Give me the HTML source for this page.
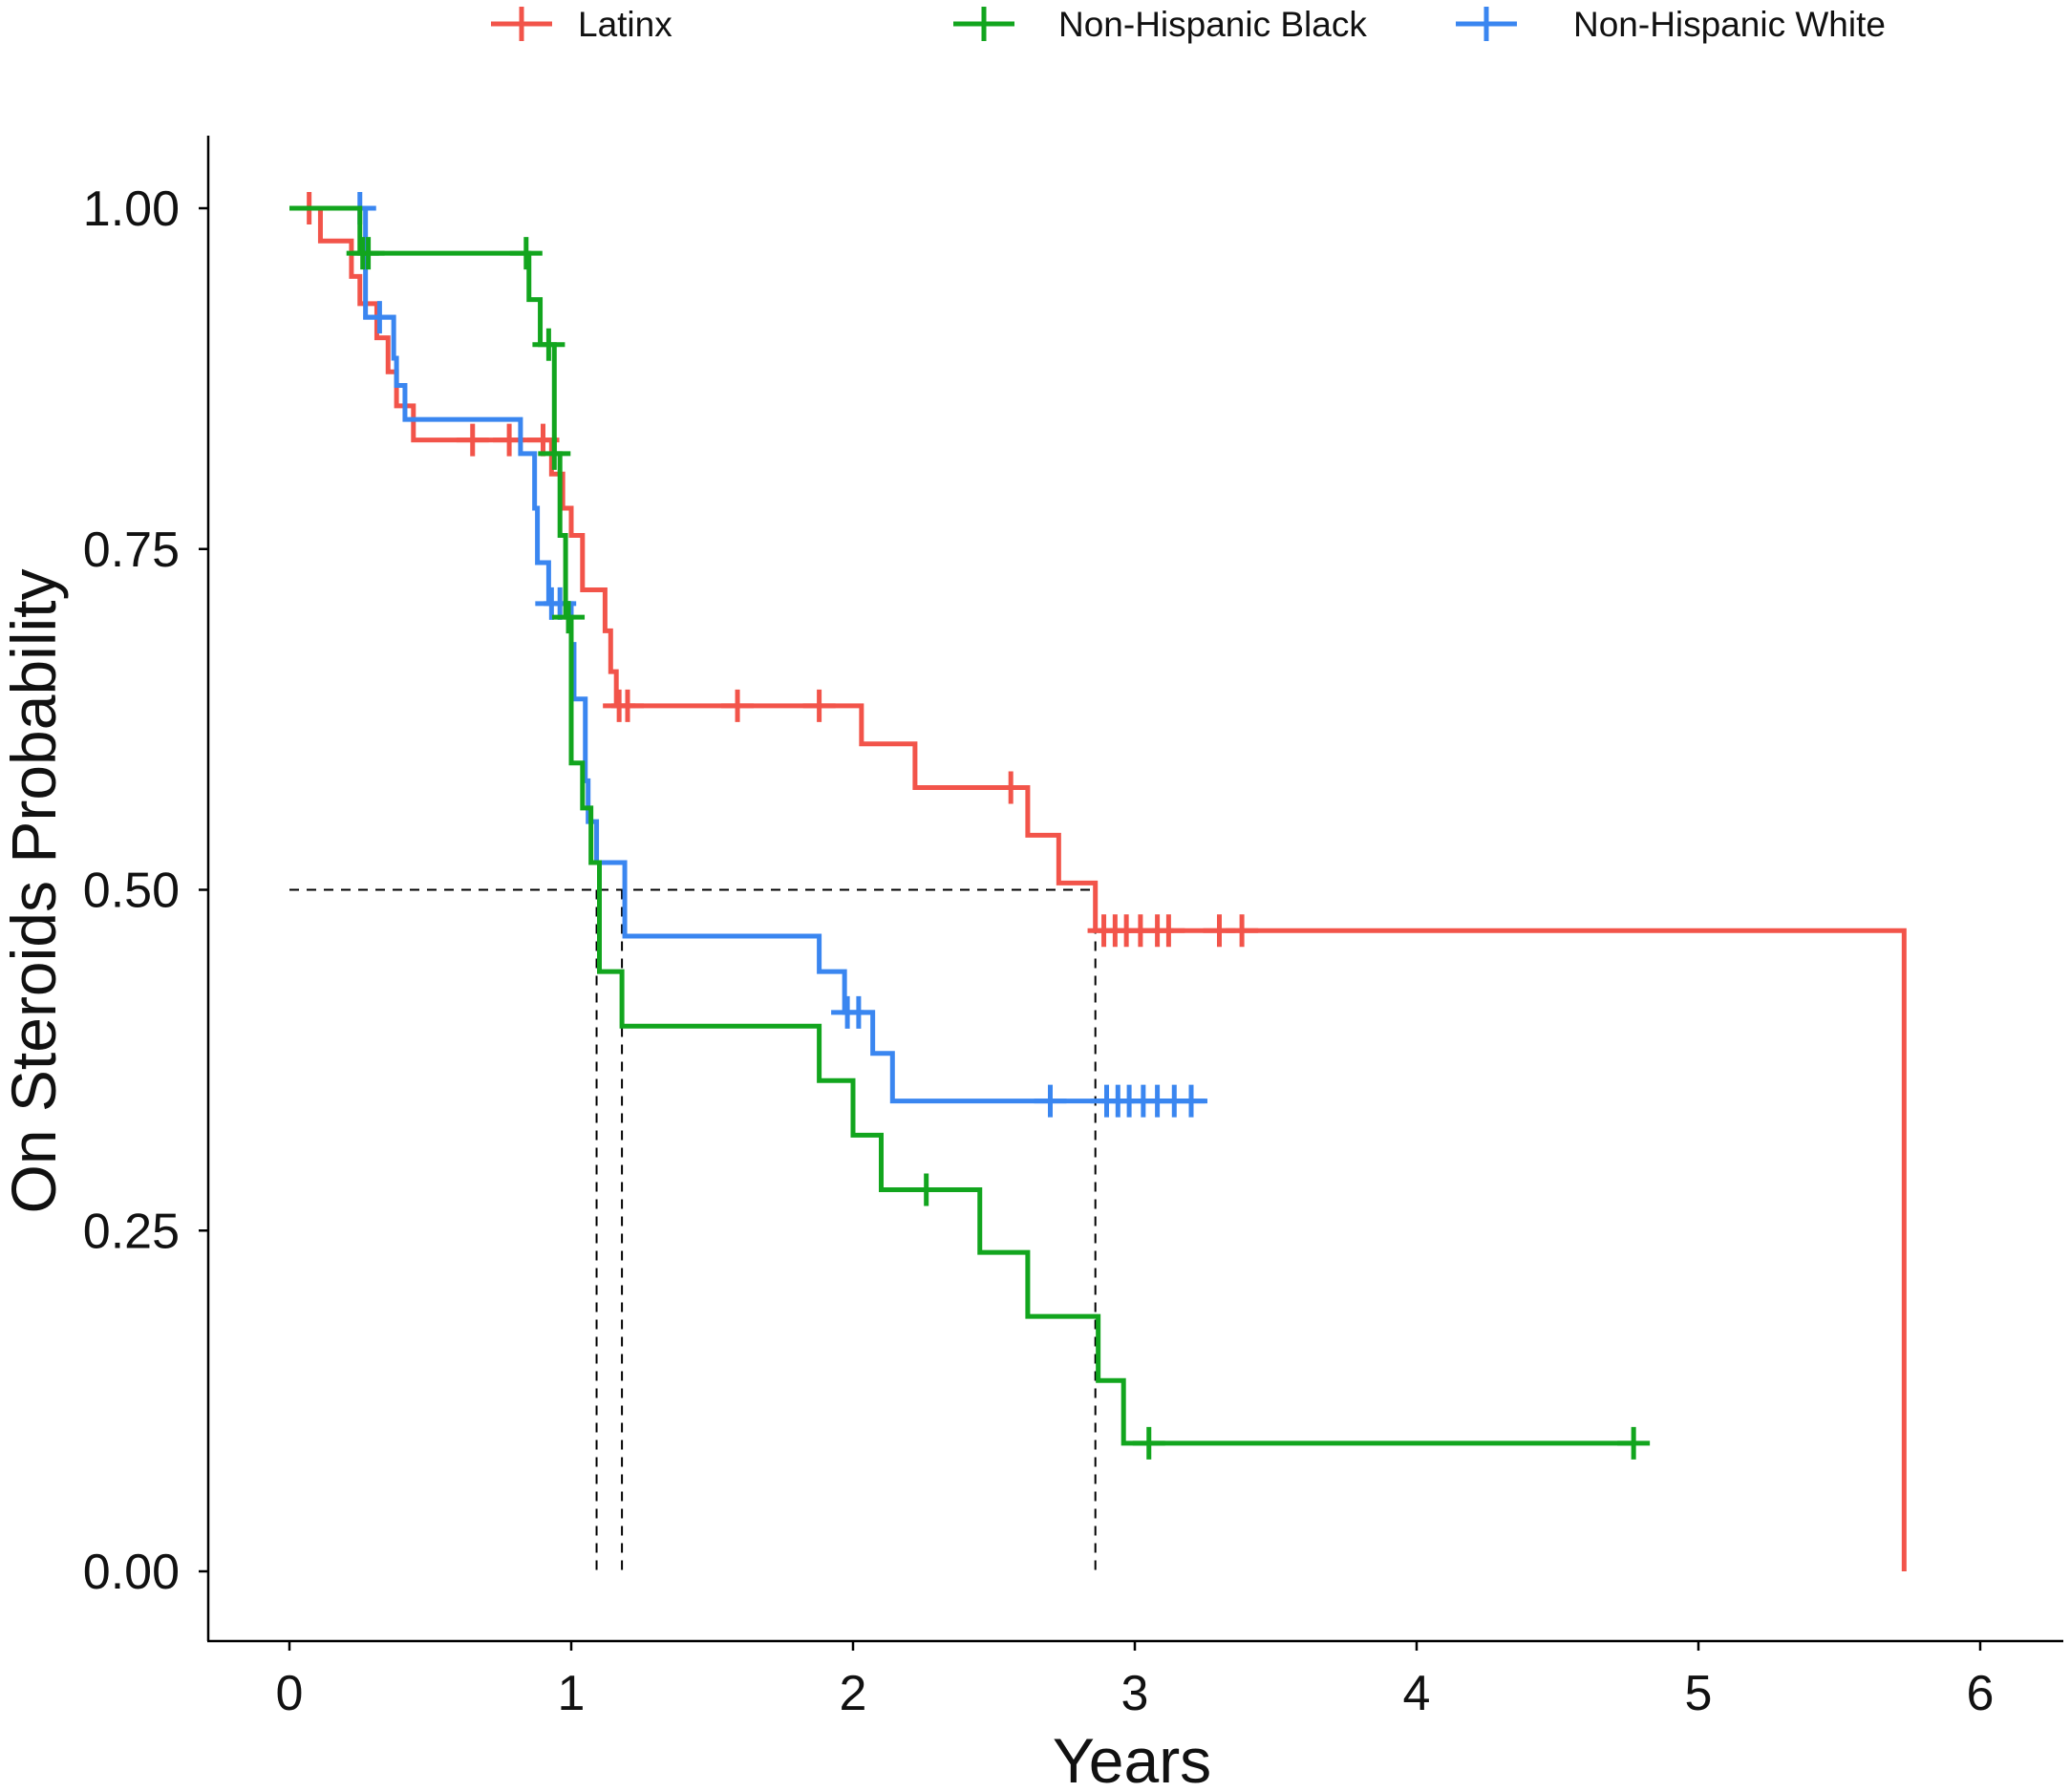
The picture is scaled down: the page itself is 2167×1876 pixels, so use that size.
<!DOCTYPE html>
<html><head><meta charset="utf-8"><style>
html,body{margin:0;padding:0;background:#fff;}
svg{display:block;font-family:"Liberation Sans",Arial,sans-serif;}
</style></head><body>
<svg id="chart" width="2167" height="1876" viewBox="0 0 2167 1876" xmlns="http://www.w3.org/2000/svg"></svg>
<script>
const xTicks=[0,1,2,3,4,5,6];
const yTicks=[0,0.25,0.5,0.75,1.0];
const yTickLabels=["0.00","0.25","0.50","0.75","1.00"];
const seriesNames=["Latinx","Non-Hispanic Black","Non-Hispanic White"];
const seriesColors=["#F2544A","#12A51E","#3A86F0"];
const latT=[0,0.11,0.22,0.25,0.31,0.35,0.38,0.44,0.93,0.97,1.0,1.04,1.12,1.14,1.16,2.03,2.22,2.62,2.73,2.86,5.73];
const latS=[1.0,0.976,0.95,0.93,0.905,0.88,0.855,0.83,0.805,0.78,0.76,0.72,0.69,0.66,0.635,0.607,0.575,0.54,0.505,0.47,0.0];
const latEnd=5.73;
const latCT=[0.07,0.65,0.78,0.9,1.17,1.2,1.59,1.88,2.56,2.89,2.93,2.97,3.02,3.08,3.12,3.3,3.38];
const blkT=[0,0.25,0.85,0.89,0.94,0.96,0.98,1.0,1.04,1.07,1.1,1.18,1.88,2.0,2.1,2.45,2.62,2.87,2.96];
const blkS=[1.0,0.967,0.933,0.9,0.82,0.76,0.7,0.593,0.56,0.52,0.44,0.4,0.36,0.32,0.28,0.234,0.187,0.14,0.094];
const blkEnd=4.77;
const blkCT=[0.26,0.28,0.84,0.92,0.94,0.99,2.26,3.05,4.77];
const whtT=[0,0.27,0.37,0.38,0.41,0.82,0.87,0.88,0.92,1.0,1.01,1.05,1.06,1.09,1.19,1.88,1.97,2.07,2.14];
const whtS=[1.0,0.92,0.89,0.87,0.845,0.82,0.78,0.74,0.71,0.68,0.64,0.58,0.55,0.52,0.466,0.44,0.41,0.38,0.345];
const whtEnd=3.25;
const whtCT=[0.25,0.32,0.93,0.96,1.98,2.02,2.7,2.9,2.94,2.98,3.03,3.08,3.14,3.2];
const medians=[1.09,1.18,2.86];

const NS="http://www.w3.org/2000/svg";
const svg=document.getElementById('chart');
const X0=303,XS=295,Y1=218,Y0=1645;
const xs=v=>X0+v*XS;
const ys=v=>Y0-(Y0-Y1)*v;
function mk(tag,attrs,parent){const e=document.createElementNS(NS,tag);for(const k in attrs)e.setAttribute(k,attrs[k]);(parent||svg).appendChild(e);return e;}

let ax=mk('line',{x1:218,y1:142,x2:218,y2:1718,stroke:'#000','stroke-width':2.5});


ax=mk('line',{x1:217,y1:1718,x2:2160,y2:1718,stroke:'#000','stroke-width':2.5});


xTicks.forEach(t=>{
  const l=mk('line',{x1:xs(t),y1:1718,x2:xs(t),y2:1728,stroke:'#000','stroke-width':2.5});
  
  
  const tx=mk('text',{x:xs(t),y:1790,'text-anchor':'middle','font-size':52,fill:'#111'});
  tx.textContent=String(t);
  
  
});
yTicks.forEach((t,i)=>{
  const l=mk('line',{x1:208,y1:ys(t),x2:218,y2:ys(t),stroke:'#000','stroke-width':2.5});
  
  
  const tx=mk('text',{x:188,y:ys(t)+18,'text-anchor':'end','font-size':52,fill:'#111'});
  tx.textContent=yTickLabels[i];
  
  
});
let tt=mk('text',{x:1185,y:1866,'text-anchor':'middle','font-size':66,fill:'#111'});
tt.textContent='Years';


tt=mk('text',{x:0,y:0,'text-anchor':'middle','font-size':66,fill:'#111',transform:'translate(58,933) rotate(-90)'});
tt.textContent='On Steroids Probability';



let d=mk('line',{x1:xs(0),y1:ys(0.5),x2:xs(medians[2]),y2:ys(0.5),stroke:'#000','stroke-width':2,'stroke-dasharray':'10 8'});


medians.forEach(m=>{
  const v=mk('line',{x1:xs(m),y1:ys(0.5),x2:xs(m),y2:ys(0),stroke:'#000','stroke-width':2,'stroke-dasharray':'10 8'});
  
  
});

function stepAt(T,S,t){let s=S[0];for(let i=0;i<T.length;i++){if(T[i]<=t)s=S[i];}return s;}
function drawSeries(T,S,end,CT,color,name){
  const g=mk('g',{});
  
  
  let p='M'+xs(T[0])+','+ys(S[0]);
  for(let i=1;i<T.length;i++){p+=' H'+xs(T[i])+' V'+ys(S[i]);}
  p+=' H'+xs(end);
  const path=mk('path',{d:p,fill:'none',stroke:color,'stroke-width':5},g);
  
  
  CT.forEach(c=>{
    const y=ys(stepAt(T,S,c)),x=xs(c);
    const m=mk('path',{d:`M${x-17},${y} H${x+17} M${x},${y-17} V${y+17}`,stroke:color,'stroke-width':5,fill:'none'},g);
    
    
  });
}
drawSeries(latT,latS,latEnd,latCT,seriesColors[0],'latinx');
drawSeries(whtT,whtS,whtEnd,whtCT,seriesColors[2],'non-hispanic-white');
drawSeries(blkT,blkS,blkEnd,blkCT,seriesColors[1],'non-hispanic-black');

const legX=[514,998,1524],legTX=[605,1108,1647];
seriesNames.forEach((n,i)=>{
  const g=mk('g',{});
  
  
  const x=legX[i],y=25;
  mk('path',{d:`M${x},${y} H${x+64} M${x+32},${y-18} V${y+18}`,stroke:seriesColors[i],'stroke-width':5,fill:'none'},g);
  const t=mk('text',{x:legTX[i],y:38,'font-size':37,fill:'#111'},g);
  t.textContent=n;
});
</script>
</body></html>
